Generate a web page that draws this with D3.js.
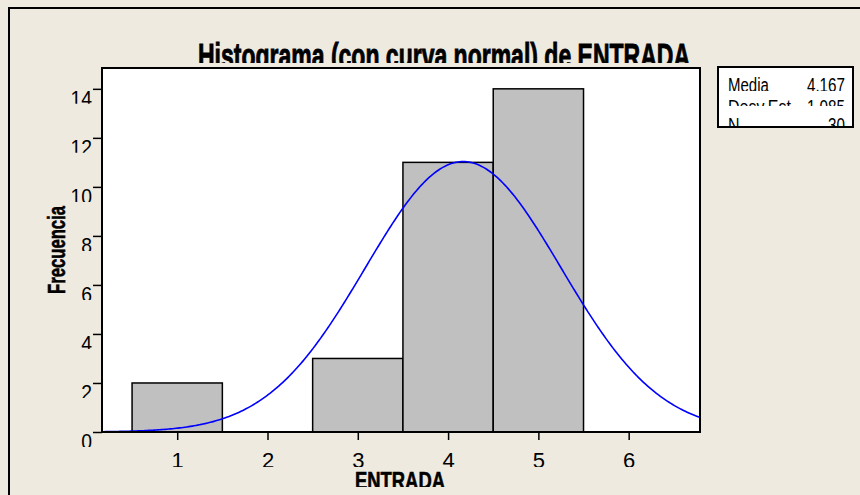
<!DOCTYPE html>
<html>
<head>
<meta charset="utf-8">
<script src="https://cdn.jsdelivr.net/npm/d3@7"></script>
<style>
  html, body { margin: 0; padding: 0; background: #eeeae0; }
  svg { display: block; }
  text { font-family: "Liberation Sans", Arial, sans-serif; fill: #000; }
</style>
</head>
<body>
<svg id="svgid" width="860" height="495"></svg>
<script>
// data
var binMids = [1, 2, 3, 4, 5],
    binCounts = [2, 0, 3, 11, 14],
    binWidth = 1,
    xTicks = [1, 2, 3, 4, 5, 6],
    yTicks = [0, 2, 4, 6, 8, 10, 12, 14],
    statLabels = ["Media", "Desv.Est.", "N"],
    statValues = ["4.167", "1.085", "30"],
    mean = 4.167,
    sd = 1.085,
    n = 30;

var svg = d3.select("svg"),
    defs = svg.append("defs"),
    plot = { left: 102, top: 68, right: 700, bottom: 432 },
    x, y, curve, condense, addClip;

x = d3.scaleLinear().domain([0.167, 6.79]).range([plot.left, plot.right]);
y = d3.scaleLinear().domain([0, 14.85]).range([plot.bottom, plot.top]);

// squeeze text horizontally, minitab fonts are very narrow
condense = function (sel, factor) {
    sel.each(function () {
        var w = this.getComputedTextLength();
        d3.select(this).attr("textLength", w * factor).attr("lengthAdjust", "spacingAndGlyphs");
    });
};

// minitab cuts the feet off its texts, fake it with clip rects
addClip = function (id, x0, y0, w, h) {
    defs.append("clipPath").attr("id", id)
        .append("rect").attr("x", x0).attr("y", y0).attr("width", w).attr("height", h);
    return "url(#" + id + ")";
};

// outer frame (runs off the right and bottom of the picture)
svg.append("polyline")
    .attr("points", "9,497 9,8 862,8")
    .attr("style", "fill:none;stroke:black;stroke-width:2");

// title
svg.append("text")
    .attr("x", 198).attr("y", 68)
    .attr("clip-path", addClip("titleClip", 0, 0, 860, 63))
    .attr("font-size", 35).attr("font-weight", "bold")
    .attr("stroke", "black").attr("stroke-width", 0.9)
    .attr("textLength", 492).attr("lengthAdjust", "spacingAndGlyphs")
    .text("Histograma (con curva normal) de ENTRADA");

// plot area
svg.append("rect")
    .attr("x", plot.left).attr("y", plot.top)
    .attr("width", plot.right - plot.left).attr("height", plot.bottom - plot.top)
    .attr("style", "fill:white;stroke:none");

var plotClip = addClip("plotClip", plot.left, plot.top, plot.right - plot.left, plot.bottom - plot.top);

svg.append("g").selectAll("rect")
    .data(binMids)
    .join("rect")
    .attr("x", function (d) { return x(d - binWidth / 2); })
    .attr("y", function (d, i) { return y(binCounts[i]); })
    .attr("width", function (d) { return x(d + binWidth / 2) - x(d - binWidth / 2); })
    .attr("height", function (d, i) { return y(0) - y(binCounts[i]); })
    .attr("style", "fill:#c0c0c0;stroke:black;stroke-width:1.5");

// fitted normal curve scaled to counts
curve = d3.range(x.domain()[0], x.domain()[1] + 0.02, 0.02).map(function (v) {
    var z = (v - mean) / sd;
    return [v, n * binWidth * Math.exp(-0.5 * z * z) / (sd * Math.sqrt(2 * Math.PI))];
});

svg.append("path")
    .datum(curve)
    .attr("clip-path", plotClip)
    .attr("d", d3.line().x(function (d) { return x(d[0]); }).y(function (d) { return y(d[1]); }))
    .attr("style", "fill:none;stroke:#0000ff;stroke-width:1.6");

svg.append("rect")
    .attr("x", plot.left).attr("y", plot.top)
    .attr("width", plot.right - plot.left).attr("height", plot.bottom - plot.top)
    .attr("style", "fill:none;stroke:black;stroke-width:2");

// axes
var yAxis = svg.append("g")
    .attr("transform", "translate(" + plot.left + ",0)")
    .call(d3.axisLeft(y).tickValues(yTicks).tickSize(9).tickPadding(1).tickSizeOuter(0));
yAxis.select(".domain").remove();
yAxis.selectAll("line").attr("stroke", "black").attr("stroke-width", 1.5);
yAxis.selectAll("text")
    .attr("clip-path", addClip("yTickClip", -60, -20, 60, 34.5))
    .attr("font-size", 22).attr("font-family", null).attr("dy", "0.75em");
condense(yAxis.selectAll("text"), 0.88);

var xAxis = svg.append("g")
    .attr("transform", "translate(0," + plot.bottom + ")")
    .call(d3.axisBottom(x).tickValues(xTicks).tickFormat(d3.format("d"))
        .tickSize(8).tickPadding(12).tickSizeOuter(0));
xAxis.select(".domain").remove();
xAxis.selectAll("line").attr("stroke", "black").attr("stroke-width", 1.5);
xAxis.selectAll("text")
    .attr("clip-path", addClip("xTickClip", -30, 0, 60, 35))
    .attr("font-size", 22).attr("font-family", null);

// axis titles
svg.append("text")
    .attr("transform", "translate(65,250) rotate(-90)")
    .attr("text-anchor", "middle")
    .attr("font-size", 24).attr("font-weight", "bold")
    .attr("stroke", "black").attr("stroke-width", 0.6)
    .attr("textLength", 88).attr("lengthAdjust", "spacingAndGlyphs")
    .text("Frecuencia");

svg.append("text")
    .attr("x", 400).attr("y", 489)
    .attr("clip-path", addClip("xLabClip", 300, 440, 200, 47))
    .attr("text-anchor", "middle")
    .attr("font-size", 24).attr("font-weight", "bold")
    .attr("stroke", "black").attr("stroke-width", 0.6)
    .attr("textLength", 90).attr("lengthAdjust", "spacingAndGlyphs")
    .text("ENTRADA");

// stats box
var box = { left: 718, top: 67, right: 853, bottom: 127 },
    rowBase = [92, 114, 132],
    rowCut = [91, 106, 126];

svg.append("rect")
    .attr("x", box.left).attr("y", box.top)
    .attr("width", box.right - box.left).attr("height", box.bottom - box.top)
    .attr("style", "fill:white;stroke:none");

statLabels.forEach(function (lbl, i) {
    var clip = addClip("rowClip" + i, box.left, rowBase[i] - 20, box.right - box.left, rowCut[i] - rowBase[i] + 20),
        row = svg.append("g").attr("clip-path", clip);
    var t1 = row.append("text")
        .attr("x", 728).attr("y", rowBase[i])
        .attr("font-size", 20)
        .text(lbl);
    var t2 = row.append("text")
        .attr("x", 845).attr("y", rowBase[i])
        .attr("text-anchor", "end")
        .attr("font-size", 20)
        .text(statValues[i]);
    condense(t1, lbl === "Media" ? 0.75 : 0.8);
    condense(t2, 0.76);
});

svg.append("rect")
    .attr("x", box.left).attr("y", box.top)
    .attr("width", box.right - box.left).attr("height", box.bottom - box.top)
    .attr("style", "fill:none;stroke:black;stroke-width:2");
</script>
</body>
</html>
